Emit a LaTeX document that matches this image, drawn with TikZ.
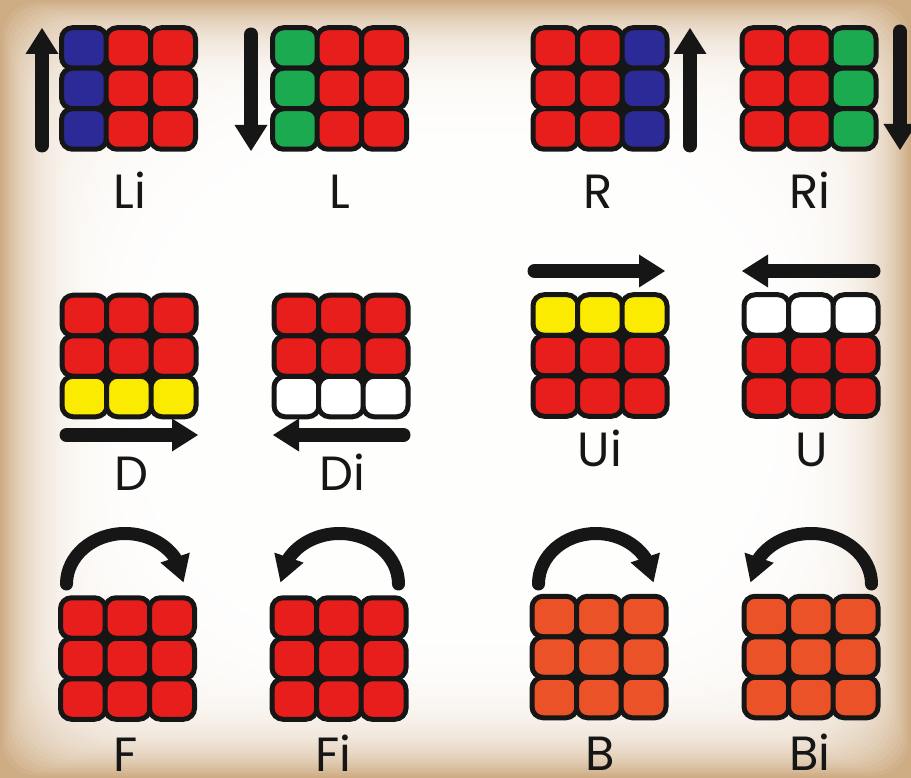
\documentclass[tikz,border=0pt]{standalone}
\usepackage{fontspec}
\setmainfont{Poppins}
\usetikzlibrary{arrows.meta,bending}
\definecolor{cred}{RGB}{232,30,28}
\definecolor{cblue}{RGB}{44,42,150}
\definecolor{cgreen}{RGB}{28,170,80}
\definecolor{cyellow}{RGB}{250,235,0}
\definecolor{corange}{RGB}{236,82,40}
\definecolor{cink}{RGB}{22,22,22}
\definecolor{vtan}{RGB}{206,172,132}
\tikzset{
  sticker/.style={draw=cink, line width=5pt, rounded corners=11pt},
  straightarrow/.style={draw=cink, line width=14pt, line cap=round, -{Triangle[width=33pt,length=26pt,line width=0pt]}},
  curvedarrow/.style={draw=cink, line width=13pt, line cap=round, -{Triangle[width=31pt,length=26pt,line width=0pt,flex]}},
  lbl/.style={anchor=base, inner sep=0pt, text=cink, font=\fontsize{48}{48}\selectfont},
}
\newcommand{\rubikface}[3]{%
  \fill[cink] ({#1-44.5},{#2-40.5}) rectangle ({#1+44.5},{#2+40.5});
  \foreach \cc [count=\ii from 0] in {#3}{%
    \pgfmathtruncatemacro{\rbR}{floor(\ii/3)}%
    \pgfmathtruncatemacro{\rbC}{mod(\ii,3)}%
    \pgfmathsetmacro{\rbX}{#1+(\rbC-1)*44.5}%
    \pgfmathsetmacro{\rbY}{#2+(\rbR-1)*40.5}%
    \filldraw[sticker, fill=\cc] ({\rbX-22.5},{\rbY-20.25}) rectangle ({\rbX+22.5},{\rbY+20.25});
  }%
}
\begin{document}
\begin{tikzpicture}[x=1pt,y=-1pt]
\useasboundingbox (0,0) rectangle (911,778);
% vignette background: nested rounded rectangles fading from tan to white
\fill[vtan] (0,0) rectangle (911,778);
\foreach \k in {1,...,56}{%
  \pgfmathsetmacro{\ins}{\k*2.5}%
  \pgfmathsetmacro{\pct}{100*exp(-\k/13)}%
  \pgfmathsetmacro{\rad}{30+1.5*\ins}%
  \fill[vtan!\pct!white, rounded corners=\rad pt] (\ins,\ins) rectangle ({911-\ins},{778-\ins});
}

% row 1
\rubikface{128.5}{88.5}{cblue,cred,cred,cblue,cred,cred,cblue,cred,cred}
\rubikface{339.5}{88.5}{cgreen,cred,cred,cgreen,cred,cred,cgreen,cred,cred}
\rubikface{600}{88.5}{cred,cred,cblue,cred,cred,cblue,cred,cred,cblue}
\rubikface{809}{88.5}{cred,cred,cgreen,cred,cred,cgreen,cred,cred,cgreen}
\draw[straightarrow] (42,145.5) -- (42,28);
\draw[straightarrow] (251,34.5) -- (251,151);
\draw[straightarrow] (690,145.5) -- (690,28);
\draw[straightarrow] (900,31.5) -- (900,150);
\node[lbl] (tLi) at (130,209) {Li};
\node[lbl] (tL) at (340,209) {L};
\node[lbl] (tR) at (598,209) {R};
\node[lbl] (tRi) at (810,209) {Ri};

% row 2
\rubikface{129}{356}{cred,cred,cred,cred,cred,cred,cyellow,cyellow,cyellow}
\rubikface{341}{356}{cred,cred,cred,cred,cred,cred,white,white,white}
\rubikface{600}{355.5}{cyellow,cyellow,cyellow,cred,cred,cred,cred,cred,cred}
\rubikface{811}{355.5}{white,white,white,cred,cred,cred,cred,cred,cred}
\draw[straightarrow] (66.5,435) -- (198,435);
\draw[straightarrow] (403.5,435) -- (273,435);
\draw[straightarrow] (534.5,271) -- (665,271);
\draw[straightarrow] (873.5,271) -- (742,271);
\node[lbl] (tD) at (131,490) {D};
\node[lbl] (tDi) at (342,490) {Di};
\node[lbl] (tUi) at (600,466) {Ui};
\node[lbl] (tU) at (812,466) {U};

% row 3
\rubikface{127.5}{658.5}{cred,cred,cred,cred,cred,cred,cred,cred,cred}
\rubikface{339}{658.5}{cred,cred,cred,cred,cred,cred,cred,cred,cred}
\rubikface{599}{657}{corange,corange,corange,corange,corange,corange,corange,corange,corange}
\rubikface{811}{657}{corange,corange,corange,corange,corange,corange,corange,corange,corange}
\draw[curvedarrow] (66.5,584) arc[start angle=180, end angle=358, x radius=58.5, y radius=50.5];
\draw[curvedarrow] (398.5,584) arc[start angle=360, end angle=182, x radius=59, y radius=50.5];
\draw[curvedarrow] (538.5,584) arc[start angle=180, end angle=358, x radius=57.5, y radius=50.5];
\draw[curvedarrow] (871.5,584) arc[start angle=360, end angle=182, x radius=60.5, y radius=50.5];
\node[lbl] (tF) at (126,771) {F};
\node[lbl] (tFi) at (333,771) {Fi};
\node[lbl] (tB) at (600,770) {B};
\node[lbl] (tBi) at (810,770) {Bi};
\end{tikzpicture}
\end{document}
